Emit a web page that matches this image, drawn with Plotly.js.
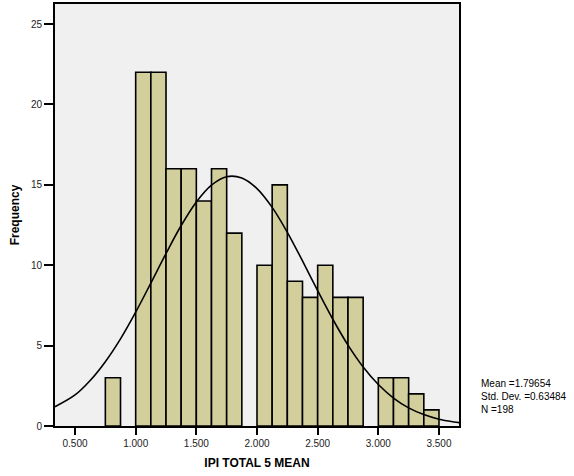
<!DOCTYPE html>
<html>
<head>
<meta charset="utf-8">
<script src="https://cdn.plot.ly/plotly-3.0.1.min.js"></script>
<style>html,body{margin:0;padding:0;background:#fff;}#chart{width:574px;height:476px;}</style>
</head>
<body>
<div id="chart"></div>
<script>
// Histogram bins (lower edge) and frequencies
const binStart = [0.75, 1.0, 1.125, 1.25, 1.375, 1.5, 1.625, 1.75, 2.0, 2.125, 2.25, 2.375, 2.5, 2.625, 2.75, 3.0, 3.125, 3.25, 3.375];
const counts   = [3, 22, 22, 16, 16, 14, 16, 12, 10, 15, 9, 8, 10, 8, 8, 3, 3, 2, 1];
const binWidth = 0.125;

// Normal curve
const curveX = [0.335, 0.5, 0.625, 0.75, 0.875, 1.0, 1.125, 1.25, 1.375, 1.5, 1.625, 1.75, 1.875, 2.0, 2.125, 2.25, 2.375, 2.5, 2.625, 2.75, 2.875, 3.0, 3.125, 3.25, 3.375, 3.5, 3.625, 3.665];
const curveY = [1.2, 1.93, 2.83, 4.0, 5.42, 7.08, 8.89, 10.73, 12.47, 13.94, 14.99, 15.51, 15.43, 14.77, 13.6, 12.05, 10.27, 8.42, 6.64, 5.03, 3.67, 2.58, 1.74, 1.13, 0.71, 0.42, 0.25, 0.21];

const xTicks = [0.5, 1.0, 1.5, 2.0, 2.5, 3.0, 3.5];
const xTickText = ["0.500", "1.000", "1.500", "2.000", "2.500", "3.000", "3.500"];
const yTicks = [0, 5, 10, 15, 20, 25];

const statsText = ["Mean =1.79654", "Std. Dev. =0.63484", "N =198"];

const barTrace = {
  type: 'bar',
  x: binStart.map(v => v + binWidth / 2),
  y: counts,
  width: binStart.map(() => binWidth),
  marker: {color: '#d3cf9c', line: {color: '#000', width: 1.6}},
  hoverinfo: 'skip'
};
const curveTrace = {
  type: 'scatter', mode: 'lines',
  x: curveX, y: curveY,
  line: {color: '#000', width: 1.6, shape: 'spline'},
  hoverinfo: 'skip'
};

const font = {family: 'Arial, "Liberation Sans", sans-serif', color: '#000'};
const layout = {
  width: 574, height: 476,
  margin: {l: 55, r: 115, t: 4, b: 50},
  paper_bgcolor: '#fff', plot_bgcolor: '#f0f0f0',
  showlegend: false,
  bargap: 0,
  font: {family: font.family, size: 10, color: '#222'},
  xaxis: {
    range: [0.335, 3.665],
    tickvals: xTicks, ticktext: xTickText,
    ticks: 'outside', ticklen: 7, tickwidth: 2, tickcolor: '#000',
    showline: true, linecolor: '#000', linewidth: 2, mirror: true,
    showgrid: false, zeroline: false,
    tickfont: {family: font.family, size: 10, color: '#222'},
    title: {text: '<b>IPI TOTAL 5 MEAN</b>', font: {family: font.family, size: 12, color: '#000'}, standoff: 11}
  },
  yaxis: {
    range: [0, 26.25],
    tickvals: yTicks,
    ticks: 'outside', ticklen: 9, tickwidth: 2, tickcolor: '#000',
    showline: true, linecolor: '#000', linewidth: 2, mirror: true,
    showgrid: false, zeroline: false,
    tickfont: {family: font.family, size: 10, color: '#222'},
    title: {text: '<b>Frequency</b>', font: {family: font.family, size: 12, color: '#000'}, standoff: 9}
  },
  annotations: [{
    xref: 'paper', yref: 'paper',
    x: 1.05, y: 0.069, xanchor: 'left', yanchor: 'middle', align: 'left',
    showarrow: false,
    text: statsText.join('<br>'),
    font: {family: font.family, size: 10, color: '#000'}
  }]
};

Plotly.newPlot('chart', [barTrace, curveTrace], layout, {displayModeBar: false, staticPlot: true});
</script>
</body>
</html>
